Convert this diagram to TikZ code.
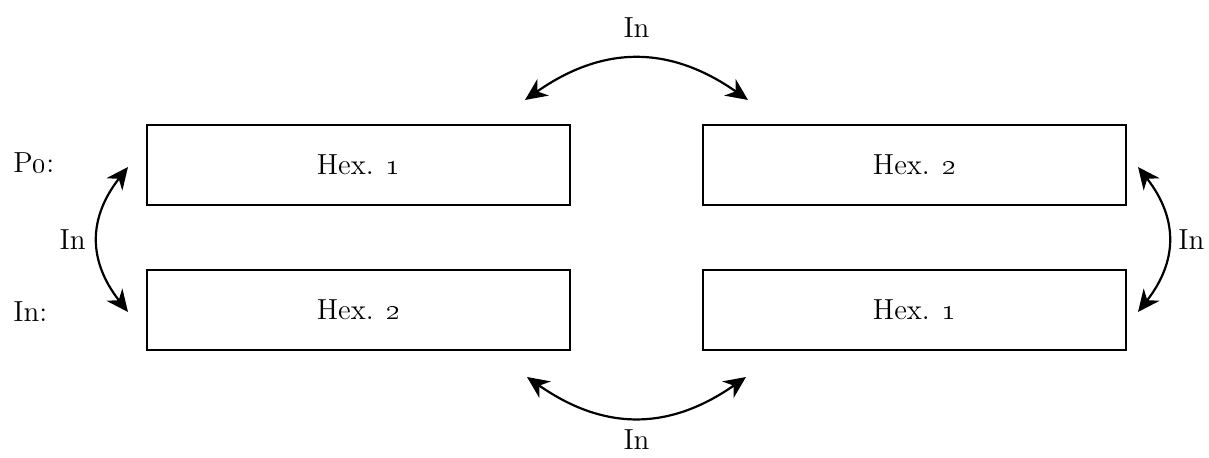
\documentclass[tikz,border=0pt]{standalone}
\usetikzlibrary{arrows.meta,positioning}
\newcommand{\hexfont}{\fontsize{14.5}{17}\selectfont}
\begin{document}
\begin{tikzpicture}[x=0.5pt,y=-0.5pt,node distance=32.5pt and 66.5pt,
  hexbox/.style={draw,line width=1.3pt,minimum width=211.5pt,minimum height=40pt,outer sep=0pt,inner sep=0pt,font=\hexfont},
  lbl/.style={font=\hexfont,inner sep=0pt},
  bow/.style={<->,line width=1.1pt},
  >={Stealth[length=11pt,width=10pt,inset=3.5pt]}]
\useasboundingbox (0,0) rectangle (1209,458);
\node[hexbox] (p1) at (358.5,165) {Hex. \oldstylenums{1}};
\node[hexbox,right=of p1] (p2) {Hex. \oldstylenums{2}};
\node[hexbox,below=of p1] (n2) {Hex. \oldstylenums{2}};
\node[hexbox,below=of p2] (n1) {Hex. \oldstylenums{1}};
% row labels
\node[lbl,anchor=base west] (rowP) at (13,173) {P\oldstylenums{0}:};
\node[lbl,anchor=base west] (rowI) at (13,322) {In:};
% arrow ends
\coordinate (lt) at (128,167); \coordinate (lb) at (128,312);
\coordinate (rt) at (1138,167); \coordinate (rb) at (1138,312);
\coordinate (tl) at (525,100); \coordinate (tr) at (748,100);
\coordinate (bl) at (527,377); \coordinate (br) at (746,377);
\draw[bow] (lt) to[bend right=38,looseness=1.15] coordinate[pos=.5] (lm) (lb);
\draw[bow] (rt) to[bend left=38,looseness=1.15] coordinate[pos=.5] (rm) (rb);
\draw[bow] (tl) to[bend left=35,looseness=1.1] coordinate[pos=.5] (tm) (tr);
\draw[bow] (bl) to[bend right=35,looseness=1.1] coordinate[pos=.5] (bm) (br);
\node[lbl,left=6pt of lm] (labL) {In};
\node[lbl,right=5pt of rm] (labR) {In};
\node[lbl,above=10.5pt of tm] (labT) {In};
\node[lbl,below=6pt of bm] (labB) {In};
\end{tikzpicture}
\end{document}
